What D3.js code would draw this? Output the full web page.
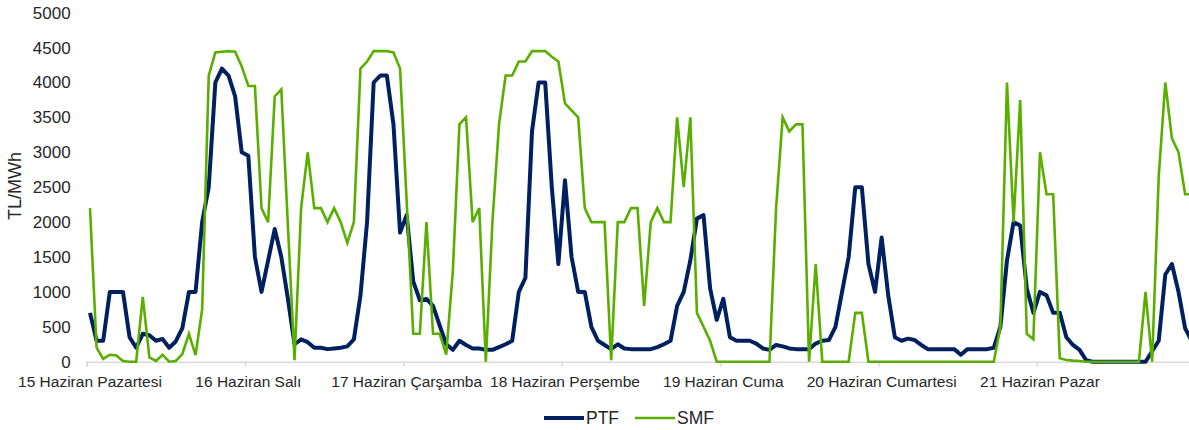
<!DOCTYPE html>
<html>
<head>
<meta charset="utf-8">
<script src="https://cdnjs.cloudflare.com/ajax/libs/d3/7.8.5/d3.min.js"></script>
<style>
  body { margin: 0; background: #fff; }
  text { font-family: "Liberation Sans", Arial, sans-serif; fill: #262626; }
</style>
</head>
<body>
<script>
// day labels (one every 24 hours)
var days = ["15 Haziran Pazartesi", "16 Haziran Salı", "17 Haziran Çarşamba", "18 Haziran Perşembe",
            "19 Haziran Cuma", "20 Haziran Cumartesi", "21 Haziran Pazar"];

var yTicks = [0, 500, 1000, 1500, 2000, 2500, 3000, 3500, 4000, 4500, 5000];

// hourly PTF, TL/MWh (24 values per day)
var ptf = [
  700, 300, 300, 1000, 1000, 1000, 350, 200, 400, 380, 300, 325, 200, 290, 480, 1000, 1000, 2000, 2500, 4000, 4200, 4100, 3800, 3000,
  2950, 1500, 1000, 1450, 1900, 1500, 900, 250, 320, 280, 200, 200, 180, 190, 200, 220, 320, 950, 2000, 4000, 4100, 4100, 3400, 1850,
  2100, 1150, 880, 900, 800, 520, 250, 170, 300, 240, 190, 190, 170, 170, 210, 250, 300, 1000, 1200, 3300, 4000, 4000, 2500, 1400,
  2600, 1500, 1000, 1000, 500, 300, 240, 180, 250, 190, 180, 180, 180, 180, 210, 250, 300, 800, 1000, 1450, 2050, 2100, 1050, 600,
  900, 350, 300, 300, 300, 260, 190, 170, 240, 220, 190, 180, 180, 180, 260, 300, 310, 500, 1000, 1500, 2500, 2500, 1400, 1000,
  1780, 950, 350, 300, 330, 310, 240, 180, 180, 180, 180, 180, 100, 180, 180, 180, 180, 200, 500, 1450, 2000, 1950, 1050, 700,
  1000, 950, 700, 700, 350, 240, 170, 20, 0, 0, 0, 0, 0, 0, 0, 0, 0, 150, 300, 1250, 1400, 1000, 480, 300
];

// hourly SMF, TL/MWh
var smf = [
  2200, 200, 40, 100, 90, 10, 0, 0, 930, 60, 10, 100, 0, 10, 110, 400, 95, 750, 4100, 4430, 4440, 4450, 4440, 4230,
  3950, 3950, 2200, 2000, 3800, 3900, 1950, 20, 2200, 3000, 2200, 2200, 2000, 2200, 2000, 1700, 2000, 4200, 4300, 4450, 4450, 4450, 4430, 4200,
  2300, 400, 400, 2000, 400, 400, 100, 1300, 3400, 3500, 2000, 2200, 0, 2000, 3400, 4100, 4100, 4300, 4300, 4450, 4450, 4450, 4370, 4300,
  3700, 3600, 3500, 2200, 2000, 2000, 2000, 20, 2000, 2000, 2200, 2200, 800, 2000, 2200, 2000, 2000, 3500, 2500, 3500, 700, 500, 300, 0,
  0, 0, 0, 0, 0, 0, 0, 0, 2200, 3500, 3300, 3400, 3400, 0, 1400, 0, 0, 0, 0, 0, 700, 700, 0, 0,
  0, 0, 0, 0, 0, 0, 0, 0, 0, 0, 0, 0, 0, 0, 0, 0, 0, 0, 500, 4000, 2000, 3750, 400, 320,
  3000, 2400, 2400, 50, 25, 15, 10, 0, 0, 0, 0, 0, 0, 0, 0, 0, 1000, 0, 2650, 4000, 3200, 3000, 2400, 2400
];

var width = 1189, height = 430;
var plotLeft = 86.7, plotRight = plotLeft + 168 * 6.597, plotTop = 12.7, plotBottom = 361.7;

var svg = d3.select("body").append("svg")
    .attr("width", width)
    .attr("height", height);

var hours = d3.range(ptf.length);

var x = d3.scaleBand().domain(hours).range([plotLeft, plotRight]);
var xHour = d3.scaleLinear().domain([0, ptf.length]).range([plotLeft, plotRight]);
var y = d3.scaleLinear().domain([0, 5000]).range([plotBottom, plotTop]);

// y axis labels only, no axis line
var yAxis = svg.append("g")
    .attr("transform", "translate(" + plotLeft + ",0)")
    .call(d3.axisLeft(y).tickValues(yTicks).tickSize(0).tickPadding(16).tickFormat(d3.format("d")));
yAxis.select(".domain").remove();
yAxis.selectAll("text").style("font-size", "17px").style("fill", "#262626")
    .style("font-family", "'Liberation Sans', Arial, sans-serif");

svg.append("text")
    .attr("transform", "translate(21,186) rotate(-90)")
    .attr("text-anchor", "middle")
    .style("font-size", "18px")
    .text("TL/MWh");

// x axis line + day tick marks
var xTickAxis = svg.append("g")
    .attr("transform", "translate(0," + plotBottom + ")")
    .call(d3.axisBottom(xHour).tickValues(d3.range(0, ptf.length + 1, 24)).tickSize(5).tickFormat(""));
xTickAxis.select(".domain").attr("stroke", "#d9d9d9").attr("stroke-width", 1.5);
xTickAxis.selectAll(".tick line").attr("stroke", "#d9d9d9").attr("stroke-width", 1.5);

var xAxis = svg.append("g")
    .attr("transform", "translate(0," + plotBottom + ")")
    .call(d3.axisBottom(x)
      .tickValues(d3.range(0, ptf.length, 24))
      .tickSize(0)
      .tickPadding(14)
      .tickFormat(function(d) { return days[d / 24]; }));
xAxis.select(".domain").remove();
xAxis.selectAll("text").style("font-size", "15.5px").style("fill", "#262626")
    .style("font-family", "'Liberation Sans', Arial, sans-serif");

var cx = function(d, i) { return x(i) + x.bandwidth() / 2; };

var ptfLine = d3.line().x(cx).y(function(d) { return y(d); });
var smfLine = d3.line().x(cx).y(function(d) { return y(d); });

svg.append("path")
    .datum(ptf)
    .attr("fill", "none")
    .attr("stroke", "#002060")
    .attr("stroke-width", 4)
    .attr("stroke-linejoin", "round")
    .attr("d", ptfLine);

svg.append("path")
    .datum(smf)
    .attr("fill", "none")
    .attr("stroke", "#5aae00")
    .attr("stroke-width", 2.6)
    .attr("d", smfLine);

// legend
var legend = [
  {name: "PTF", color: "#002060", w: 4, x: 544},
  {name: "SMF", color: "#5aae00", w: 2.6, x: 635}
];
var lg = svg.selectAll(".legend").data(legend).enter().append("g")
    .attr("class", "legend")
    .attr("transform", function(d) { return "translate(" + d.x + ",418)"; });
lg.append("line")
    .attr("x1", 0).attr("x2", 40)
    .attr("stroke", function(d) { return d.color; })
    .attr("stroke-width", function(d) { return d.w; });
lg.append("text")
    .attr("x", 42)
    .attr("dy", "0.36em")
    .style("font-size", "17.5px")
    .text(function(d) { return d.name; });
</script>
</body>
</html>
